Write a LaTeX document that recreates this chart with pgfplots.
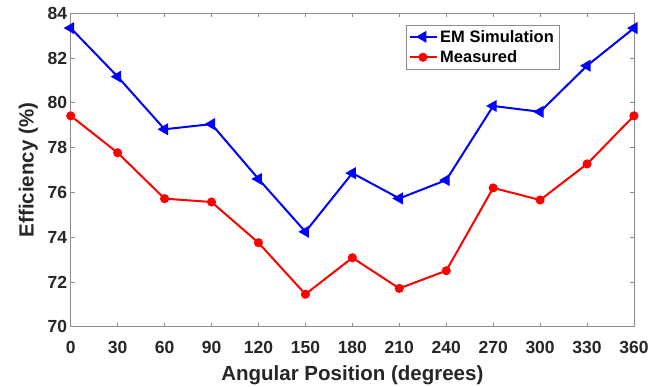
\documentclass[border=0pt]{standalone}
\usepackage{pgfplots}
\pgfplotsset{compat=1.18}
\usepackage{fontspec}
\setmainfont{Liberation Sans}
\definecolor{txt}{RGB}{38,38,38}
\begin{document}
\begin{tikzpicture}
\begin{axis}[
  name=ax,
  scale only axis,
  width=563.3pt, height=313.4pt,
  xmin=0, xmax=360, ymin=70, ymax=84,
  xtick={0,30,...,360}, ytick={70,72,...,84},
  tick align=inside,
  major tick length=4pt,
  axis line style={black!45, line width=0.8pt},
  tick style={black!45, line width=0.8pt},
  ticklabel style={font=\fontsize{17.5}{17.5}\selectfont\bfseries, text=txt},
  xticklabel style={yshift=-11pt},
  /pgf/number format/assume math mode=true,
  xlabel={Angular Position (degrees)},
  ylabel={Efficiency (\%)},
  label style={font=\fontsize{20.5}{20.5}\selectfont\bfseries, text=txt},
  xlabel style={yshift=-5pt},
  ylabel style={yshift=3pt},
  legend style={at={(0.867,0.963)}, anchor=north east, draw=black!45,
    font=\fontsize{16.5}{19}\selectfont\bfseries, text=black,
    inner sep=3pt, row sep=3pt, legend cell align=left},
  legend image code/.code={\draw[#1] (0cm,0cm) -- (0.95cm,0cm); \path[#1,mark repeat=2,mark phase=2] plot coordinates {(0cm,0cm) (0.45cm,0cm)};},
]
\addplot[color=blue, line width=2pt, mark=triangle*, mark size=5pt, mark options={rotate=90, solid, fill=blue}] coordinates {
(0,83.34) (30,81.17) (60,78.82) (90,79.05) (120,76.6) (150,74.24) (180,76.86)
(210,75.73) (240,76.55) (270,79.86) (300,79.6) (330,81.66) (360,83.34)};
\addlegendentry{EM Simulation}
\addplot[color=red, line width=2pt, mark=*, mark size=3.5pt, mark options={solid, fill=red}] coordinates {
(0,79.42) (30,77.77) (60,75.72) (90,75.57) (120,73.75) (150,71.45) (180,73.08)
(210,71.71) (240,72.5) (270,76.2) (300,75.66) (330,77.27) (360,79.42)};
\addlegendentry{Measured}
\end{axis}
\pgfresetboundingbox
\path[use as bounding box] ([xshift=-70.7pt,yshift=-60.3pt]ax.south west) rectangle ([xshift=30pt,yshift=13.3pt]ax.north east);
\end{tikzpicture}
\end{document}
